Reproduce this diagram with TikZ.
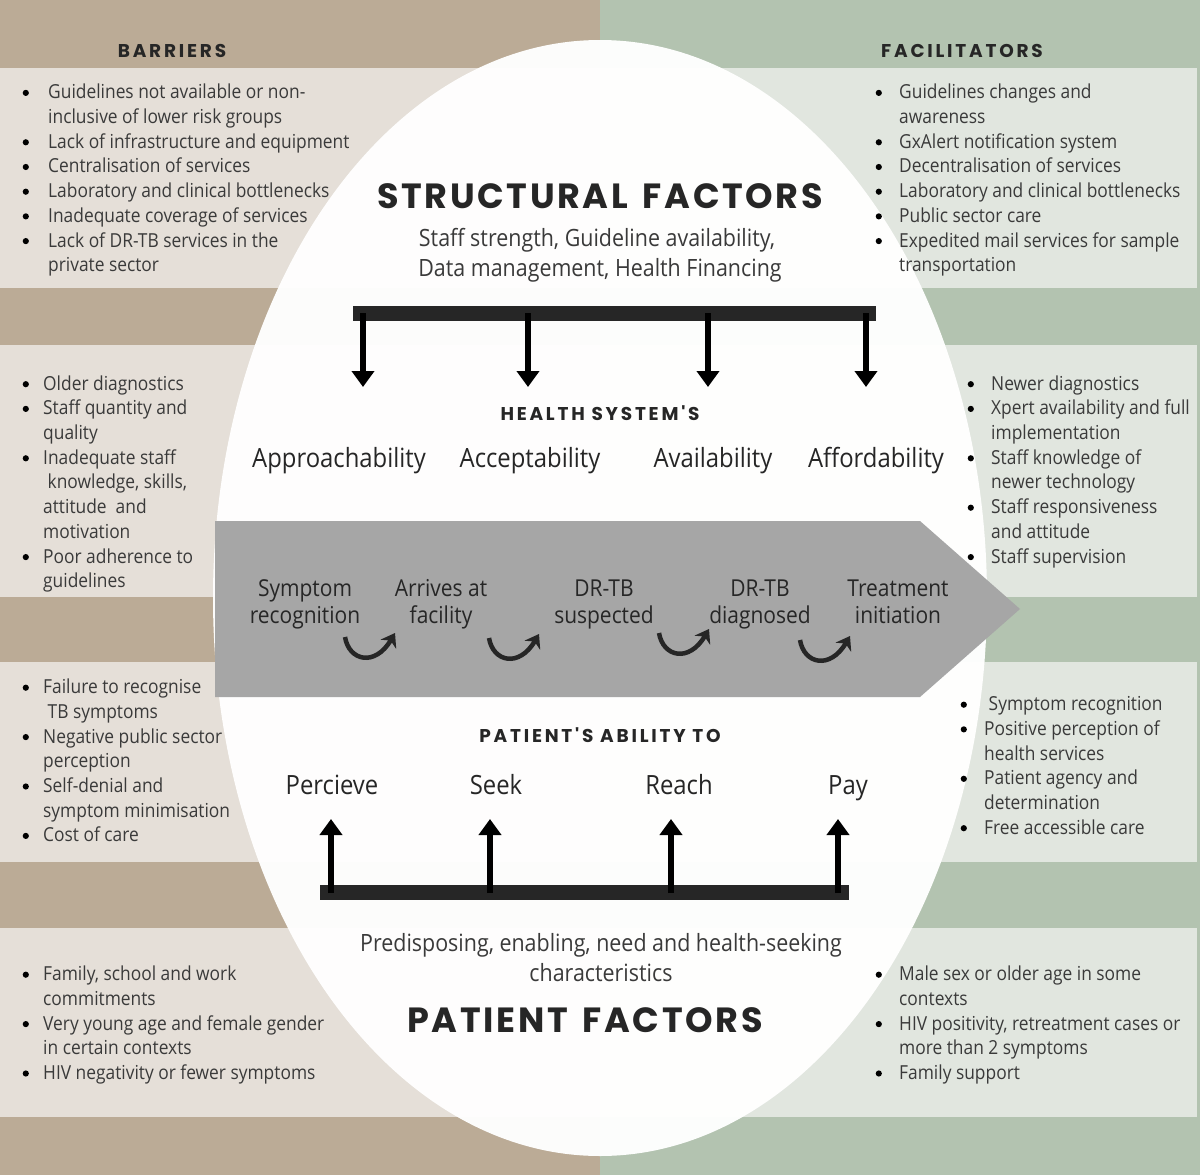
\documentclass[tikz,border=0pt]{standalone}
\usepackage{fontspec}
\setmainfont{Open Sans}[FakeStretch=0.9]
\newfontfamily\bighead[LetterSpace=7.5]{Poppins}
\newfontfamily\smallhead[LetterSpace=15]{Poppins}
\usetikzlibrary{arrows.meta}
\definecolor{tanD}{HTML}{BBAB96}
\definecolor{tanL}{HTML}{E5DFD8}
\definecolor{sageD}{HTML}{B3C3B0}
\definecolor{sageL}{HTML}{E1E6DF}
\definecolor{ink}{HTML}{262626}
\definecolor{txt}{HTML}{3A3A3A}
\definecolor{flow}{HTML}{A6A6A6}
\newcommand\bu[1]{\makebox[#1pt][l]{\hspace{1.5pt}\tikz[baseline=-6pt]\fill[black] (0,0) circle (3.1pt);}}
\newcommand\cu[1]{\hspace*{#1pt}}
\tikzset{
 lst/.style={anchor=north west, inner sep=0pt, align=left, text=txt, font=\fontsize{19.3}{24.7}\selectfont},
 lbl/.style={anchor=base, inner sep=0pt, text=ink, font=\fontsize{26.5}{30}\selectfont},
 sub/.style={anchor=base, inner sep=0pt, text=txt, font=\fontsize{23.8}{30}\selectfont},
 flowlbl/.style={anchor=north, inner sep=0pt, align=center, text=ink, font=\fontsize{23.3}{27}\selectfont},
 bigh/.style={anchor=base, inner sep=0pt, text=ink, font=\bighead\bfseries\fontsize{35}{38}\selectfont},
 smallh/.style={anchor=base, inner sep=0pt, text=ink, font=\smallhead\bfseries\fontsize{18.5}{22}\selectfont},
 darr/.style={line width=5.5pt, black, -{Triangle[width=22pt,length=16pt]}},
 swoosh/.style={line width=4.5pt, ink, -{Stealth[width=18pt,length=13pt]}},
}
\begin{document}
\begin{tikzpicture}[x=1pt,y=-1pt]
\useasboundingbox (0,0) rectangle (1200,1175);
% backgrounds
\fill[tanD] (0,0) rectangle (600,1175);
\fill[sageD] (600,0) rectangle (1200,1175);
\foreach \ya/\yb in {68/288, 345/597, 662/862, 928/1117} {
  \fill[tanL] (0,\ya) rectangle (600,\yb);
  \fill[sageL] (600,\ya) rectangle (1197,\yb);
}
% central ellipse
\fill[white, fill opacity=0.97] (600,598) ellipse [x radius=387pt, y radius=558pt];
% process arrow
\fill[flow] (215,521) -- (920,521) -- (1020,609) -- (920,697) -- (215,697) -- cycle;
% bars
\fill[ink] (353,306) rectangle (876,321);
\fill[ink] (320,885) rectangle (849,900);
\foreach \i/\x in {1/363, 2/528, 3/708, 4/866} {
  \coordinate (ts\i) at (\x,313);
  \coordinate (te\i) at (\x,387);
  \draw[darr] (ts\i) -- (te\i);
}
\foreach \i/\x in {1/331, 2/490, 3/671, 4/838} {
  \coordinate (bs\i) at (\x,893);
  \coordinate (be\i) at (\x,819);
  \draw[darr] (bs\i) -- (be\i);
}
% swooshes
\foreach \sx/\sy in {345/637, 489/638, 659/633, 800/640} {
  \begin{scope}[shift={(\sx,\sy)}]
    \draw[swoosh] (0,0) .. controls (4,24) and (30,30) .. (50,-4);
  \end{scope}
}
% headings
\node[smallh] (barr) at (172,57) {BARRIERS};
\node[smallh] (faci) at (962,57) {FACILITATORS};
\node[bigh] (sf) at (600,208) {STRUCTURAL\hspace{5pt} FACTORS};
\node[sub] (sf1) at (597,246) {Staff strength, Guideline availability,};
\node[sub] (sf2) at (600,276) {Data management, Health Financing};
\node[smallh] (hs) at (600,420) {HEALTH SYSTEM'S};
\node[lbl] (l1) at (339,467) {Approachability};
\node[lbl] (l2) at (530,467) {Acceptability};
\node[lbl] (l3) at (713,467) {Availability};
\node[lbl] (l4) at (876,467) {Affordability};
\node[flowlbl] (f1) at (305,577.6) {\strut Symptom\\recognition};
\node[flowlbl] (f2) at (441,577.6) {\strut Arrives at\\facility};
\node[flowlbl] (f3) at (604,577.6) {\strut DR-TB\\suspected};
\node[flowlbl] (f4) at (760,577.6) {\strut DR-TB\\diagnosed};
\node[flowlbl] (f5) at (898,577.6) {\strut Treatment\\initiation};
\node[smallh] (pa) at (600,742) {PATIENT'S ABILITY TO};
\node[lbl] (p1) at (332,794) {Percieve};
\node[lbl] (p2) at (496,794) {Seek};
\node[lbl] (p3) at (679,794) {Reach};
\node[lbl] (p4) at (848,794) {Pay};
\node[sub] (pd1) at (601,951) {Predisposing, enabling, need and health-seeking};
\node[sub] (pd2) at (601,981) {characteristics};
\node[bigh] (pf) at (585,1032) {PATIENT\hspace{5pt} FACTORS};
% lists
\node[lst] (tl) at (21,81.4) {\strut\bu{27}Guidelines not available or non-\\
\cu{27}inclusive of lower risk groups\\
\bu{27}Lack of infrastructure and equipment\\
\bu{27}Centralisation of services\\
\bu{27}Laboratory and clinical bottlenecks\\
\bu{27}Inadequate coverage of services\\
\bu{27}Lack of DR-TB services in the\\
\cu{27}private sector};
\node[lst] (tr) at (874,81.4) {\strut\bu{25}Guidelines changes and\\
\cu{25}awareness\\
\bu{25}GxAlert notification system\\
\bu{25}Decentralisation of services\\
\bu{25}Laboratory and clinical bottlenecks\\
\bu{25}Public sector care\\
\bu{25}Expedited mail services for sample\\
\cu{25}transportation};
\node[lst] (ml) at (21,372.7) {\strut\bu{22}Older diagnostics\\
\bu{22}Staff quantity and\\
\cu{22}quality\\
\bu{22}Inadequate staff\\
\cu{22} knowledge, skills,\\
\cu{22}attitude\ \ and\\
\cu{22}motivation\\
\bu{22}Poor adherence to\\
\cu{22}guidelines};
\node[lst] (mr) at (966,372.7) {\strut\bu{25}Newer diagnostics\\
\bu{25}Xpert availability and full\\
\cu{25}implementation\\
\bu{25}Staff knowledge of\\
\cu{25}newer technology\\
\bu{25}Staff responsiveness\\
\cu{25}and attitude\\
\bu{25}Staff supervision};
\node[lst] (pl) at (21,676.2) {\strut\bu{22}Failure to recognise\\
\cu{22} TB symptoms\\
\bu{22}Negative public sector\\
\cu{22}perception\\
\bu{22}Self-denial and\\
\cu{22}symptom minimisation\\
\bu{22}Cost of care};
\node[lst] (pr) at (959,693.2) {\strut\bu{25} Symptom recognition\\
\bu{25}Positive perception of\\
\cu{25}health services\\
\bu{25}Patient agency and\\
\cu{25}determination\\
\bu{25}Free accessible care};
\node[lst] (ql) at (21,963.2) {\strut\bu{22}Family, school and work\\
\cu{22}commitments\\
\bu{22}Very young age and female gender\\
\cu{22}in certain contexts\\
\bu{22}HIV negativity or fewer symptoms};
\node[lst] (qr) at (874,963.2) {\strut\bu{25}Male sex or older age in some\\
\cu{25}contexts\\
\bu{25}HIV positivity, retreatment cases or\\
\cu{25}more than 2 symptoms\\
\bu{25}Family support};
\end{tikzpicture}
\end{document}
